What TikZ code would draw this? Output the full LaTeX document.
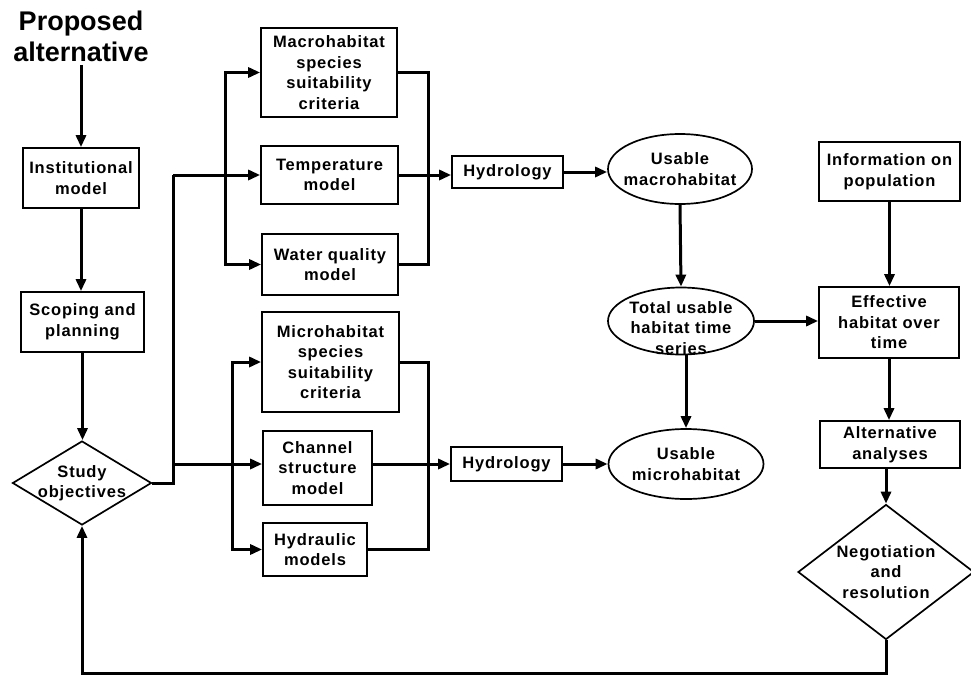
\documentclass[tikz,border=0pt]{standalone}
\usepackage{fontspec}
\setmainfont{Liberation Sans}[LetterSpace=5]
\newfontfamily\titlefont{Liberation Sans}
\usetikzlibrary{shapes.geometric,arrows.meta,calc}
\begin{document}
\begin{tikzpicture}[x=1pt,y=-1pt,
  font=\bfseries\fontsize{16.5}{20.5}\selectfont,
  box/.style={draw, line width=1.7pt, rectangle, inner sep=0pt, align=center},
  oval/.style={draw, ellipse, line width=1.7pt, inner sep=-10pt, align=center},
  decide/.style={draw, diamond, line width=1.7pt, inner sep=-10pt, align=center},
  conn/.style={line width=3pt},
  arr/.style={conn, -{Triangle[length=12pt,width=10pt]}}]
\useasboundingbox (0,0) rectangle (971,677);

\node[font=\titlefont\bfseries\fontsize{27}{31}\selectfont, align=center] (title) at (81,36) {Proposed\\alternative};
\node[box, minimum width=116pt, minimum height=60pt] (inst) at (81,178) {Institutional\\model};
\node[box, minimum width=123pt, minimum height=60pt] (scop) at (82.5,322) {Scoping and\\planning};
\node[decide, minimum width=139pt, minimum height=82pt] (sd) at (82,483) {Study\\objectives};

\node[box, minimum width=136pt, minimum height=89pt] (macro) at (329,72.5) {Macrohabitat\\species\\suitability\\criteria};
\node[box, minimum width=137pt, minimum height=58pt] (temp) at (329.5,175) {Temperature\\model};
\node[box, minimum width=136pt, minimum height=61pt] (water) at (330,264.5) {Water quality\\model};
\node[box, minimum width=137pt, minimum height=100pt] (micro) at (330.5,362) {Microhabitat\\species\\suitability\\criteria};
\node[box, minimum width=109pt, minimum height=74pt] (chan) at (317.5,468) {Channel\\structure\\model};
\node[box, minimum width=104pt, minimum height=53pt] (hydr) at (315,549.5) {Hydraulic\\models};

\node[box, minimum width=111pt, minimum height=32pt] (hyd1) at (507.5,172) {Hydrology};
\node[box, minimum width=111pt, minimum height=34pt] (hyd2) at (506.5,464) {Hydrology};

\node[oval, minimum width=144pt, minimum height=70pt] (umac) at (680,169) {Usable\\macrohabitat};
\node[oval, minimum width=146pt, minimum height=67pt] (total) at (681,321) {};
\node[align=center] (totaltext) at (681,328) {Total usable\\habitat time\\series};
\node[oval, minimum width=155pt, minimum height=70pt] (umic) at (686,464) {Usable\\microhabitat};

\node[box, minimum width=141pt, minimum height=59pt] (info) at (889.5,171.5) {Information on\\population};
\node[box, minimum width=140pt, minimum height=71pt] (eff) at (889,322.5) {Effective\\habitat over\\time};
\node[box, minimum width=140pt, minimum height=47pt] (alt) at (890,444.5) {Alternative\\analyses};
\node[decide, minimum width=176pt, minimum height=135pt] (neg) at (886,572) {Negotiation\\and\\resolution};

\coordinate (b1) at (173,175);
\coordinate (b2) at (225,175);
\coordinate (b3) at (232,464);
\coordinate (b4) at (428,175);
\coordinate (b5) at (428,464);
\coordinate (fb) at (82,673);

\draw[arr] (title.south) -- (inst.north);
\draw[arr] (inst.south) -- (inst.south |- scop.north);
\draw[arr] (scop.south) -- (scop.south |- sd.north);

\draw[conn] (sd.east) -| (b1);
\draw[arr] (b1) -- (temp.west);
\draw[arr] (b1 |- b3) -- (chan.west |- b3);
\draw[arr] (b2) |- (macro.west);
\draw[arr] (b2) |- (water.west);
\draw[arr] (b3) |- (micro.west);
\draw[arr] (b3) |- (hydr.west);

\draw[conn] (macro.east) -| (b4) |- (water.east);
\draw[conn] (micro.east) -| (b5) |- (hydr.east);
\draw[arr] (temp.east) -- (temp.east -| hyd1.west);
\draw[arr] (chan.east |- b3) -- (hyd2.west |- b3);

\draw[arr] (hyd1.east) -- (umac.west |- hyd1.east);
\draw[arr] (hyd2.east) -- (umic.west);
\draw[arr] (umac.south) -- (total.north);
\draw[arr] (total.south -| umic.north) -- (umic.north);
\draw[arr] (total.east) -- (total.east -| eff.west);

\draw[arr] (info.south) -- (info.south |- eff.north);
\draw[arr] (eff.south) -- (eff.south |- alt.north);
\draw[arr] (neg.north |- alt.south) -- (neg.north);
\draw[arr] (neg.south) |- (fb) -- (sd.south);
\end{tikzpicture}
\end{document}
